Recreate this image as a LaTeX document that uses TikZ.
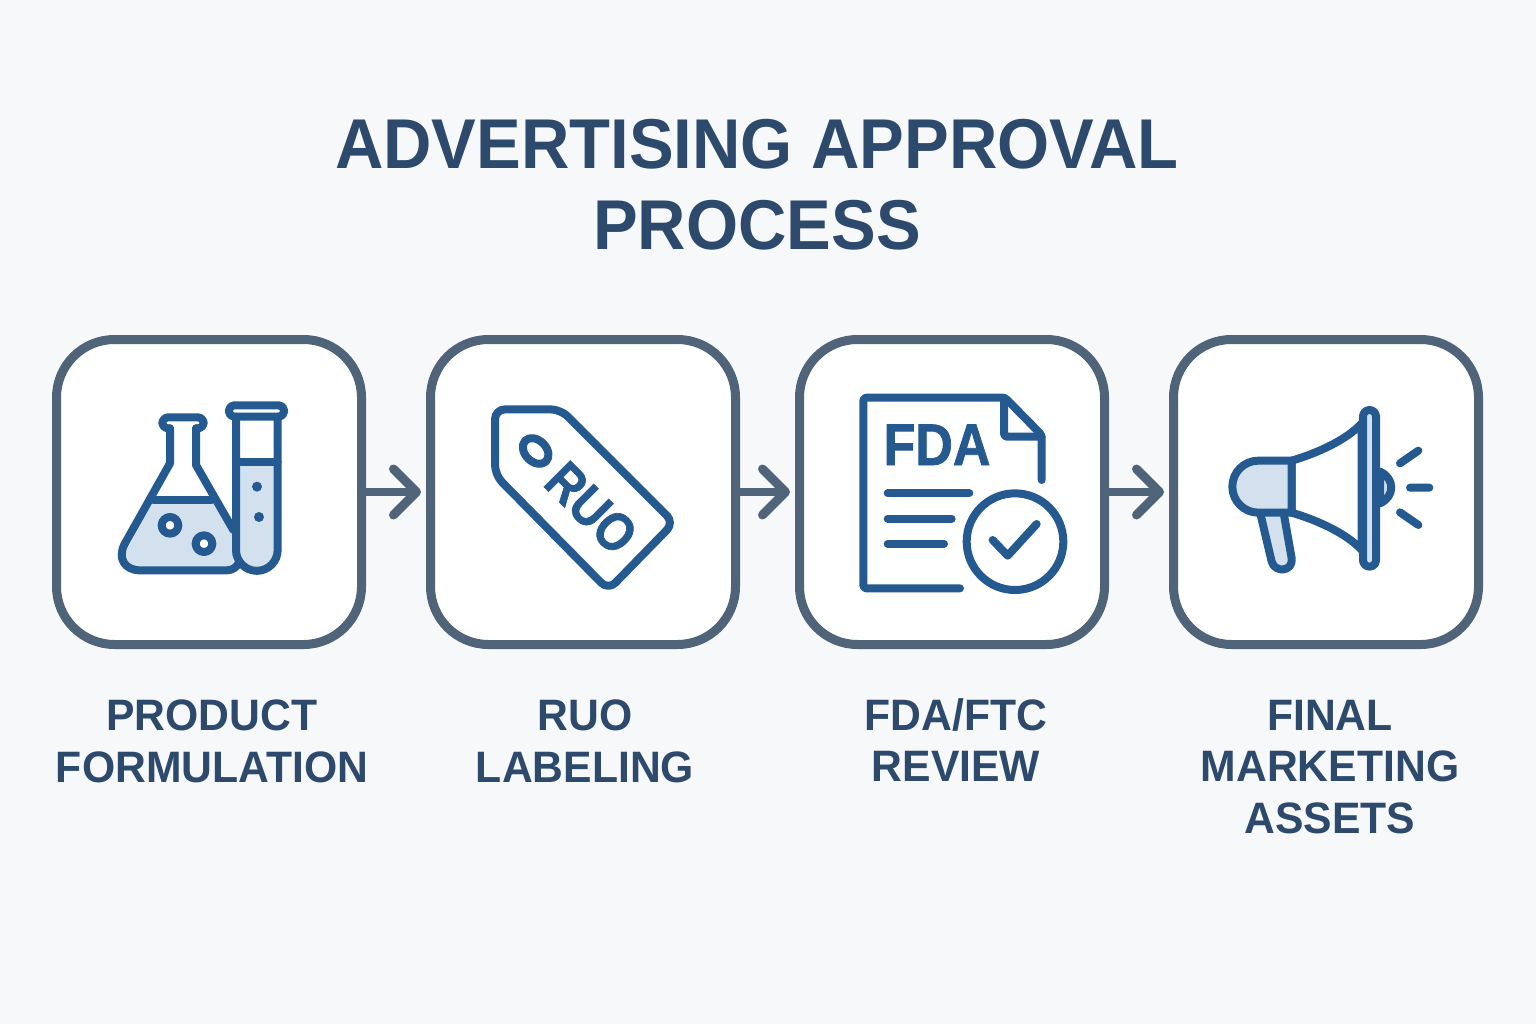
\documentclass[tikz,border=0pt]{standalone}
\usepackage{fontspec}
\setmainfont{Liberation Sans}
\newfontfamily\heavyface{Liberation Sans Bold}[FakeBold=1.4]
\usetikzlibrary{arrows.meta}
\definecolor{bgc}{HTML}{F7F8FA}
\definecolor{boxc}{HTML}{4F6479}
\definecolor{txtc}{HTML}{2D4A6D}
\definecolor{iconc}{HTML}{255A90}
\definecolor{liqc}{HTML}{D3E1EF}
\tikzset{
  stepbox/.style={draw=boxc,line width=9pt,fill=white,rounded corners=58pt,minimum width=305pt,minimum height=305pt,inner sep=0pt,outer sep=4.5pt},
  flow/.style={draw=boxc,line width=8pt,line cap=round,line join=round,shorten >=5pt,-{Straight Barb[round,length=23pt,width=46pt,line width=9pt]}},
  ico/.style={draw=iconc,line width=8pt,line cap=round,line join=round},
  steplabel/.style={text=txtc,font=\fontsize{44}{51.5}\selectfont\bfseries,align=center,inner sep=0pt,xscale=.97},
  titletext/.style={text=txtc,font=\fontsize{70.5}{81}\selectfont\bfseries,align=center,inner sep=0pt,xscale=.95},
  zoomed/.style={x=0.33333pt,y=-0.33333pt}
}
\begin{document}
\begin{tikzpicture}[x=1pt,y=-1pt]
\useasboundingbox (0,0) rectangle (1536,1024);
\fill[bgc] (0,0) rectangle (1536,1024);
\node[titletext] (title) at (757,185) {ADVERTISING APPROVAL\\PROCESS};
\node[stepbox] (b1) at (209,492) {};
\node[stepbox] (b2) at (583,492) {};
\node[stepbox] (b3) at (952,492) {};
\node[stepbox] (b4) at (1326,492) {};
\draw[flow] (b1) -- (b2);
\draw[flow] (b2) -- (b3);
\draw[flow] (b3) -- (b4);
\node[steplabel,anchor=north] (l1) at (212,700) {PRODUCT\\FORMULATION};
\node[steplabel,anchor=north] (l2) at (585,700) {RUO\\LABELING};
\node[steplabel,anchor=north] (l3) at (956,698) {FDA/FTC\\REVIEW};
\node[steplabel,anchor=north] (l4) at (1330,700) {FINAL\\MARKETING\\ASSETS};
% flask and tube
\begin{scope}[shift={(90,380)},zoomed]
\fill[liqc] (190,360) -- (365,360) -- (430,470) -- (430,570) -- (125,570) -- (100,530) -- cycle;
\draw[ico] (240,145) -- (240,250) -- (105,490) .. controls (80,535) and (105,571) .. (150,571) -- (410,571) .. controls (430,571) and (440,560) .. (445,550);
\draw[ico] (318,145) -- (318,255) -- (430,450);
\draw[ico,rounded corners=6pt] (240,145) -- (217,145) -- (217,112) -- (341,112) -- (341,145) -- (318,145);
\draw[ico] (190,360) -- (365,360);
\draw[ico,fill=white] (240,436) circle[radius=25];
\draw[ico,fill=white] (342,491) circle[radius=25];
\fill[liqc] (438,245) -- (563,245) -- (563,510) arc[start angle=0,end angle=-180,x radius=62.5,y radius=-62.5] -- cycle;
\draw[ico] (438,110) -- (438,510) arc[start angle=180,end angle=360,x radius=62.5,y radius=-62.5] -- (563,110);
\draw[ico,rounded corners=5pt] (417,76) rectangle (582,110);
\draw[ico] (438,245) -- (563,245);
\fill[iconc] (501,320) circle[radius=15] (507,411) circle[radius=15];
\end{scope}
% tag
\begin{scope}[shift={(470,380)},zoomed]
\draw[ico,rounded corners=10pt] (75,88) -- (272,88) -- (612,428) -- (415,630) -- (75,285) -- cycle;
\draw[ico,rotate around={-45:(197,213)}] (197,213) ellipse[x radius=44,y radius=32];
\node[text=iconc,font=\fontsize{54}{54}\selectfont\heavyface,rotate=-45,inner sep=0pt,xscale=.86] (ruo) at (364,384) {RUO};
\end{scope}
% document
\begin{scope}[shift={(840,380)},zoomed]
\draw[ico,rounded corners=3pt] (360,625) -- (70,625) -- (70,53) -- (495,53) -- (605,165) -- (605,300);
\draw[ico,rounded corners=3pt] (492,53) -- (492,170) -- (605,170);
\node[text=iconc,font=\fontsize{52}{52}\selectfont\heavyface,inner sep=0pt,anchor=base,yscale=1.13] (fda) at (291,255) {FDA};
\draw[ico] (143,340) -- (388,340) (143,416) -- (335,416) (143,491) -- (312,491);
\draw[ico,fill=white] (525,485) circle[radius=145];
\draw[ico] (458,480) -- (503,527) -- (590,432);
\end{scope}
% megaphone
\begin{scope}[shift={(1210,390)},zoomed]
\draw[ico,fill=liqc] (510,245) .. controls (555,265) and (555,320) .. (510,340) -- cycle;
\draw[ico,fill=liqc] (152,375) -- (185,515) .. controls (195,550) and (250,545) .. (245,505) -- (222,375);
\draw[ico,fill=white] (245,212) .. controls (320,190) and (410,150) .. (455,100) -- (455,480) .. controls (410,430) and (320,390) .. (245,368) -- cycle;
\draw[ico,fill=liqc] (245,212) -- (145,212) arc[start angle=90,end angle=270,x radius=78,y radius=-78] -- (245,368) -- cycle;
\draw[ico,fill=liqc,rounded corners=6.5pt] (459,60) rectangle (498,530);
\draw[ico] (570,220) -- (625,182) (600,293) -- (658,293) (570,367) -- (625,405);
\end{scope}
\end{tikzpicture}
\end{document}
